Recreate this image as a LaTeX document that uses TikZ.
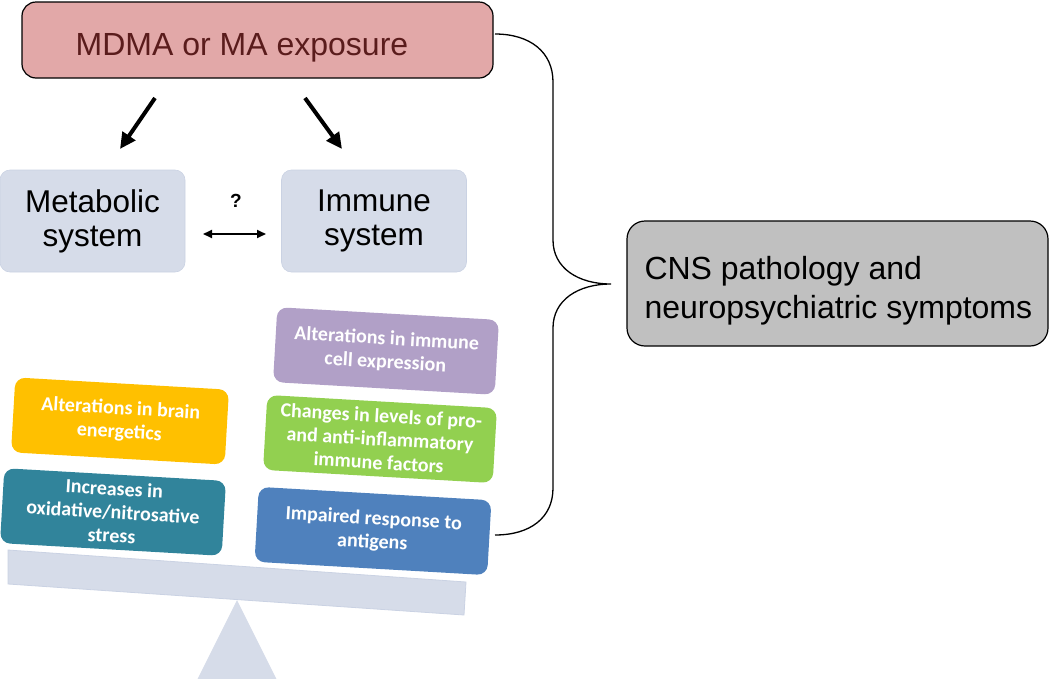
\documentclass[tikz,border=0pt]{standalone}
\usepackage{fontspec}
\setmainfont{Liberation Sans}
\newfontfamily\calib{Carlito}
\usetikzlibrary{arrows.meta}
\definecolor{pinkbox}{HTML}{E2A8A8}
\definecolor{pinktext}{HTML}{5A1C1C}
\definecolor{sysbox}{HTML}{D6DCE9}
\definecolor{sysedge}{HTML}{CAD2E3}
\definecolor{cnsbox}{HTML}{C0C0C0}
\definecolor{cyellow}{HTML}{FFC000}
\definecolor{cteal}{HTML}{31849B}
\definecolor{cpurple}{HTML}{B1A0C7}
\definecolor{cgreen}{HTML}{92D050}
\definecolor{cblue}{HTML}{4F81BD}
\tikzset{
  mainbox/.style={draw=black, line width=1.2pt, rounded corners=14pt, inner sep=0pt},
  sysnode/.style={fill=sysbox, draw=sysedge, line width=0.6pt, rounded corners=10pt,
    minimum width=185pt, minimum height=102pt, inner sep=0pt, align=center,
    font=\fontsize{31.5}{34}\selectfont},
  effect/.style={rounded corners=10pt, inner sep=0pt, align=center, text=white,
    minimum height=75pt, rotate=-3.3,
    font=\calib\bfseries\fontsize{20}{23.5}\selectfont},
  bigarrow/.style={line width=4pt, -{Triangle[length=16pt,width=15pt]}},
  dblarrow/.style={line width=1.8pt, {Triangle[length=9pt,width=8pt]}-{Triangle[length=9pt,width=8pt]}},
  bracestyle/.style={line width=1.3pt, draw=black}
}
\begin{document}
\begin{tikzpicture}[x=1pt,y=-1pt]
\useasboundingbox (0,0) rectangle (1050,678);
% seesaw
\fill[sysbox] (237,600) -- (197,680) -- (277,680) -- cycle;
\path[fill=sysbox, draw=sysedge, line width=0.8pt] (8,550) -- (466,582) -- (464,615) -- (8,584) -- cycle;
% top box
\node[mainbox, fill=pinkbox, minimum width=471pt, minimum height=76pt] (top) at (257.5,40) {};
\node[text=pinktext, font=\fontsize{32}{36}\selectfont, anchor=base] (toptxt) at (242,55) {MDMA or MA exposure};
% system boxes
\node[sysnode] (meta) at (92.5,221) {Metabolic\\system};
\node[sysnode] (immu) at (374,221) {Immune\\system};
% arrows
\coordinate (a1s) at (155,98);
\coordinate (a1e) at (120,149);
\coordinate (a2s) at (305,98);
\coordinate (a2e) at (342,149);
\draw[bigarrow] (a1s) -- (a1e);
\draw[bigarrow] (a2s) -- (a2e);
\node[font=\bfseries\fontsize{19}{22}\selectfont] (q) at (236,201) {?};
\coordinate (d1) at (203,234);
\coordinate (d2) at (266,234);
\draw[dblarrow] (d1) -- (d2);
% effect boxes
\node[effect, fill=cyellow, minimum width=214pt] (yel) at (120,421) {Alterations in brain\\energetics};
\node[effect, fill=cteal, minimum width=222pt] (teal) at (113,512) {Increases in\\oxidative/nitrosative\\stress};
\node[effect, fill=cpurple, minimum width=222pt] (pur) at (386,351) {Alterations in immune\\cell expression};
\node[effect, fill=cgreen, minimum width=230pt] (grn) at (380,439) {Changes in levels of pro-\\and anti-inflammatory\\immune factors};
\node[effect, fill=cblue, minimum width=233pt] (blu) at (373,531) {Impaired response to\\antigens};
% CNS box
\node[mainbox, fill=cnsbox, rounded corners=18pt, minimum width=421pt, minimum height=125pt] (cns) at (837.5,283.5) {};
\node[font=\fontsize{32}{39}\selectfont, align=left, anchor=west] (cnstxt) at (641,291) {CNS pathology and\\neuropsychiatric symptoms};
% brace
\coordinate (bt) at (495,34);
\coordinate (bb) at (495,535);
\coordinate (tip) at (611,284);
\draw[bracestyle] (bt) .. controls (530,34) and (553,52) .. (553,82) -- (553,240)
  .. controls (553,268) and (578,284) .. (tip)
  .. controls (578,284) and (553,300) .. (553,328) -- (553,488)
  .. controls (553,518) and (530,535) .. (bb);
\end{tikzpicture}
\end{document}
